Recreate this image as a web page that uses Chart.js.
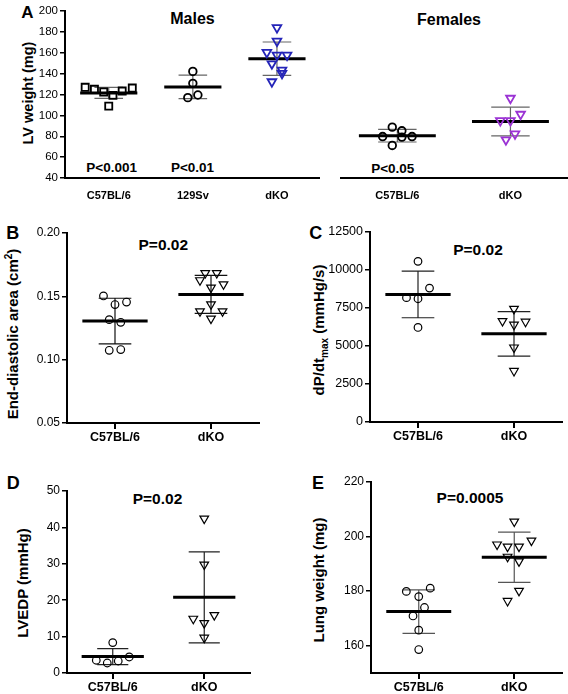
<!DOCTYPE html>
<html>
<head>
<meta charset="utf-8">
<script src="https://cdn.jsdelivr.net/npm/chart.js"></script>
<style>
    html, body { margin: 0; padding: 0; background: #fff; width: 568px; height: 694px; overflow: hidden; }
    body { position: relative; font-family: 'Liberation Sans', Arial, Helvetica, sans-serif; }
    canvas { position: absolute; }
    .txt { position: absolute; transform: translate(-50%, -50%); font-weight: bold; white-space: nowrap; color: #000; line-height: 1; }
    .rot { transform: translate(-50%, -50%) rotate(-90deg); }
    sup, sub { font-size: 10px; line-height: 0; }
</style>
</head>
<body>
<div class="txt" style="left:27.5px;top:12px;font-size:17px">A</div>
<div class="txt" style="left:192.5px;top:19px;font-size:16px">Males</div>
<div class="txt" style="left:449px;top:20px;font-size:16px">Females</div>
<div class="txt" style="left:111.7px;top:168px;font-size:13.5px">P&lt;0.001</div>
<div class="txt" style="left:192.5px;top:168px;font-size:13.5px">P&lt;0.01</div>
<div class="txt" style="left:392.8px;top:168.5px;font-size:13.5px">P&lt;0.05</div>
<div class="txt rot" style="left:27.5px;top:92.5px;font-size:14.5px">LV weight (mg)</div>

<div class="txt" style="left:12.7px;top:233px;font-size:18px">B</div>
<div class="txt rot" style="left:12px;top:334px;font-size:15px">End-diastolic area (cm<sup>2</sup>)</div>
<div class="txt" style="left:163.3px;top:245.3px;font-size:15.5px">P=0.02</div>

<div class="txt" style="left:315.8px;top:232.5px;font-size:18px">C</div>
<div class="txt rot" style="left:318px;top:330px;font-size:15px">dP/dt<sub>max</sub> (mmHg/s)</div>
<div class="txt" style="left:478px;top:250px;font-size:15.5px">P=0.02</div>

<div class="txt" style="left:13.3px;top:483px;font-size:18px">D</div>
<div class="txt rot" style="left:21.7px;top:583.3px;font-size:15px">LVEDP (mmHg)</div>
<div class="txt" style="left:157.5px;top:499px;font-size:15.5px">P=0.02</div>

<div class="txt" style="left:318px;top:483px;font-size:18px">E</div>
<div class="txt rot" style="left:318.3px;top:580px;font-size:15px">Lung weight (mg)</div>
<div class="txt" style="left:470px;top:497.5px;font-size:15.5px">P=0.0005</div>

<script>
Chart.defaults.font.family = "'Liberation Sans', Arial, Helvetica, sans-serif";
Chart.defaults.color = '#000';

// Painel A - peso do VE (mg), machos
const categoriasMachos = ['C57BL/6', '129Sv', 'dKO'];
const lvMachosC57 = [126.9, 125.0, 122.4, 119.2, 123.3, 126.2, 108.9];
const lvMachos129 = [142.1, 130.7, 117.0, 119.5];
const lvMachosDko = [184.1, 171.1, 160.3, 157.7, 157.7, 149.4, 143.4, 140.2, 132.2];
const mediasMachos = [121.5, 127.3, 154.3];
const dpMachos = [5.3, 11.3, 16.0];

// Painel A - fêmeas
const categoriasFemeas = ['C57BL/6', 'dKO'];
const lvFemeasC57 = [88.7, 85.2, 79.7, 79.2, 79.7, 71.2];
const lvFemeasDko = [116.4, 101.1, 95.0, 95.0, 82.3, 76.6];
const mediasFemeas = [80.5, 94.2];
const dpFemeas = [6.0, 13.8];
const ticksLV = [40, 60, 80, 100, 120, 140, 160, 180, 200];

// Painéis B a E
const categorias = ['C57BL/6', 'dKO'];

const areaC57 = [0.1503, 0.1455, 0.1435, 0.1316, 0.1295, 0.1074, 0.1080];
const areaDko = [0.1684, 0.1684, 0.1627, 0.1595, 0.1569, 0.1437, 0.1382, 0.1382, 0.1324];
const mediasArea = [0.1305, 0.1515];
const dpArea = [0.018, 0.015];
const ticksArea = [0.05, 0.10, 0.15, 0.20];

const dpdtC57 = [10570, 8810, 8180, 8110, 6220];
const dpdtDko = [7440, 6640, 6400, 6600, 4900, 3360];
const mediasDpdt = [8390, 5800];
const dpDpdt = [1530, 1465];
const ticksDpdt = [0, 2500, 5000, 7500, 10000, 12500];

const lvedpC57 = [8.35, 3.5, 2.75, 3.3, 4.4];
const lvedpDko = [42.4, 29.8, 14.9, 15.9, 13.7, 9.7];
const mediasLvedp = [4.5, 20.8];
const dpLvedp = [2.2, 12.5];
const ticksLvedp = [0, 10, 20, 30, 40, 50];

const pulmaoC57 = [181.1, 179.9, 178.0, 174.0, 170.9, 165.7, 158.6];
const pulmaoDko = [205.5, 197.1, 196.3, 196.3, 198.5, 192.6, 190.9, 180.1, 176.4];
const mediasPulmao = [172.5, 192.4];
const dpPulmao = [8.0, 9.2];
const ticksPulmao = [160, 180, 200, 220];

// Espalhamento horizontal dos pontos (em unidades de categoria)
const espMachosC57 = [-0.28, -0.17, -0.06, 0.05, 0.16, 0.28, 0];
const espMachos129 = [0, 0, -0.06, 0.06];
const espMachosDko = [0, 0, -0.12, 0, 0.12, -0.06, 0.06, 0.06, -0.06];
const espFemeasC57 = [-0.045, 0.04, -0.13, 0.04, 0.13, -0.045];
const espFemeasDko = [0, 0.09, -0.09, 0, 0.04, -0.04];
const espAreaC57 = [-0.12, 0.12, 0, -0.06, 0.06, -0.06, 0.06];
const espAreaDko = [-0.06, 0.06, -0.115, 0.13, 0, 0, -0.115, 0.12, 0];
const espDpdtC57 = [0, 0.12, -0.12, 0, 0];
const espDpdtDko = [0, -0.12, 0, 0.12, 0, 0];
const espLvedpC57 = [0, -0.18, -0.06, 0.06, 0.18];
const espLvedpDko = [0, 0, -0.12, 0.11, 0, 0];
const espPulmaoC57 = [0.12, -0.13, 0, 0.06, -0.06, 0, 0];
const espPulmaoDko = [0, -0.18, -0.07, 0.05, 0.18, -0.07, 0.05, 0.05, -0.07];

function montarGrupo(valores, esp, media, dp, pos, estilo) {
    const pontos = {
        data: valores.map((v, i) => ({ x: pos + esp[i], y: v })),
        pointStyle: estilo.forma,
        rotation: estilo.forma === 'triangle' ? 180 : 0,
        pointRadius: estilo.raio,
        borderColor: estilo.cor,
        backgroundColor: 'rgba(0,0,0,0)',
        borderWidth: estilo.espessura,
        order: 0
    };
    const linhaMedia = {
        data: [{ x: pos - 0.34, y: media }, { x: pos + 0.34, y: media }],
        showLine: true,
        borderColor: '#000',
        borderWidth: 3,
        pointRadius: 0,
        order: 1
    };
    // barra de desvio padrão (média ± DP)
    const barra = {
        data: [
            { x: pos - 0.17, y: media + dp }, { x: pos + 0.17, y: media + dp }, { x: pos, y: null },
            { x: pos, y: media + dp }, { x: pos, y: media - dp }, { x: pos, y: null },
            { x: pos - 0.17, y: media - dp }, { x: pos + 0.17, y: media - dp }
        ],
        showLine: true,
        spanGaps: false,
        borderColor: estilo.corBarra,
        borderWidth: 1.2,
        pointRadius: 0,
        order: 2
    };
    return [pontos, linhaMedia, barra];
}

function criarPainel(p) {
    const larguraY = p.eixoY ? p.larguraY : 0;
    const topoPad = 10, direitaPad = 8;
    const esquerda = p.x0 - larguraY;
    const topo = p.y0 - topoPad;

    const canvas = document.createElement('canvas');
    canvas.width = p.x1 + direitaPad - esquerda;
    canvas.height = p.y1 + p.alturaX - topo;
    canvas.style.left = esquerda + 'px';
    canvas.style.top = topo + 'px';
    document.body.appendChild(canvas);

    let datasets = [];
    p.grupos.forEach((g, i) => {
        datasets = datasets.concat(montarGrupo(g.valores, g.esp, g.media, g.dp, i + 1, g.estilo));
    });

    new Chart(canvas.getContext('2d'), {
        type: 'scatter',
        data: { datasets: datasets },
        options: {
            responsive: false,
            animation: false,
            events: [],
            layout: { padding: { top: topoPad, right: direitaPad, left: 0, bottom: 0 } },
            plugins: { legend: { display: false }, tooltip: { enabled: false } },
            scales: {
                x: {
                    type: 'linear',
                    min: p.xMin,
                    max: p.xMax,
                    afterBuildTicks: (eixo) => { eixo.ticks = p.categorias.map((c, i) => ({ value: i + 1 })); },
                    afterFit: (eixo) => { eixo.height = p.alturaX; },
                    ticks: {
                        autoSkip: false,
                        maxRotation: 0,
                        padding: p.padX,
                        font: { size: p.fonteX, weight: 'bold' },
                        callback: (valor, indice) => p.categorias[indice]
                    },
                    grid: { display: p.marcasX, drawOnChartArea: false, tickLength: 6, lineWidth: 2, color: '#000' },
                    border: { display: true, color: '#000', width: 2 }
                },
                y: {
                    display: p.eixoY,
                    type: 'linear',
                    min: p.yMin,
                    max: p.yMax,
                    afterBuildTicks: (eixo) => { eixo.ticks = p.ticksY.map(v => ({ value: v })); },
                    afterFit: (eixo) => { eixo.width = larguraY; },
                    ticks: { padding: 2, font: { size: p.fonteY }, callback: p.formatoY },
                    grid: { drawOnChartArea: false, tickLength: 5, lineWidth: 1.5, color: '#000' },
                    border: { display: true, color: '#000', width: 2 }
                }
            }
        }
    });
}

const simples = v => String(v);

const quadradoPreto = { forma: 'rect', raio: 5, cor: '#000', espessura: 1.8, corBarra: '#666' };
const circuloPretoA = { forma: 'circle', raio: 3.8, cor: '#000', espessura: 1.8, corBarra: '#666' };
const trianguloAzul = { forma: 'triangle', raio: 5, cor: '#2424b8', espessura: 1.8, corBarra: '#666' };
const trianguloRoxo = { forma: 'triangle', raio: 5, cor: '#9b33d4', espessura: 1.8, corBarra: '#666' };
function circulo(corBarra) { return { forma: 'circle', raio: 3.8, cor: '#000', espessura: 1.2, corBarra: corBarra }; }
function triangulo(corBarra) { return { forma: 'triangle', raio: 5, cor: '#000', espessura: 1.2, corBarra: corBarra }; }

// A - machos
criarPainel({
    x0: 65, y0: 11, x1: 319, y1: 178, larguraY: 50, alturaX: 22, eixoY: true,
    xMin: 0.48, xMax: 3.5, yMin: 40, yMax: 200, ticksY: ticksLV, formatoY: simples,
    categorias: categoriasMachos, fonteX: 11, padX: 5, marcasX: false, fonteY: 11.5,
    grupos: [
        { valores: lvMachosC57, esp: espMachosC57, media: mediasMachos[0], dp: dpMachos[0], estilo: quadradoPreto },
        { valores: lvMachos129, esp: espMachos129, media: mediasMachos[1], dp: dpMachos[1], estilo: circuloPretoA },
        { valores: lvMachosDko, esp: espMachosDko, media: mediasMachos[2], dp: dpMachos[2], estilo: trianguloAzul }
    ]
});

// A - fêmeas
criarPainel({
    x0: 334, y0: 11, x1: 567, y1: 178, larguraY: 0, alturaX: 22, eixoY: false,
    xMin: 0.5, xMax: 2.5, yMin: 40, yMax: 200, ticksY: ticksLV, formatoY: simples,
    categorias: categoriasFemeas, fonteX: 11, padX: 5, marcasX: false, fonteY: 11.5,
    grupos: [
        { valores: lvFemeasC57, esp: espFemeasC57, media: mediasFemeas[0], dp: dpFemeas[0], estilo: circuloPretoA },
        { valores: lvFemeasDko, esp: espFemeasDko, media: mediasFemeas[1], dp: dpFemeas[1], estilo: trianguloRoxo }
    ]
});

// B - área diastólica final
criarPainel({
    x0: 67, y0: 233, x1: 259, y1: 423, larguraY: 55, alturaX: 23, eixoY: true,
    xMin: 0.5, xMax: 2.5, yMin: 0.05, yMax: 0.20, ticksY: ticksArea, formatoY: v => v.toFixed(2),
    categorias: categorias, fonteX: 12.5, padX: 1.5, marcasX: true, fonteY: 12,
    grupos: [
        { valores: areaC57, esp: espAreaC57, media: mediasArea[0], dp: dpArea[0], estilo: circulo('#111') },
        { valores: areaDko, esp: espAreaDko, media: mediasArea[1], dp: dpArea[1], estilo: triangulo('#111') }
    ]
});

// C - dP/dt max
criarPainel({
    x0: 370, y0: 232, x1: 562, y1: 422, larguraY: 55, alturaX: 23, eixoY: true,
    xMin: 0.5, xMax: 2.5, yMin: 0, yMax: 12500, ticksY: ticksDpdt, formatoY: simples,
    categorias: categorias, fonteX: 12.5, padX: 1.5, marcasX: true, fonteY: 12.5,
    grupos: [
        { valores: dpdtC57, esp: espDpdtC57, media: mediasDpdt[0], dp: dpDpdt[0], estilo: circulo('#222') },
        { valores: dpdtDko, esp: espDpdtDko, media: mediasDpdt[1], dp: dpDpdt[1], estilo: triangulo('#222') }
    ]
});

// D - LVEDP
criarPainel({
    x0: 67, y0: 491, x1: 250, y1: 673, larguraY: 45, alturaX: 23, eixoY: true,
    xMin: 0.5, xMax: 2.5, yMin: 0, yMax: 50, ticksY: ticksLvedp, formatoY: simples,
    categorias: categorias, fonteX: 12.5, padX: 1.5, marcasX: true, fonteY: 12,
    grupos: [
        { valores: lvedpC57, esp: espLvedpC57, media: mediasLvedp[0], dp: dpLvedp[0], estilo: circulo('#222') },
        { valores: lvedpDko, esp: espLvedpDko, media: mediasLvedp[1], dp: dpLvedp[1], estilo: triangulo('#222') }
    ]
});

// E - peso do pulmão
criarPainel({
    x0: 371, y0: 482, x1: 562, y1: 673, larguraY: 45, alturaX: 23, eixoY: true,
    xMin: 0.5, xMax: 2.5, yMin: 150, yMax: 220, ticksY: ticksPulmao, formatoY: simples,
    categorias: categorias, fonteX: 12.5, padX: 1.5, marcasX: true, fonteY: 12,
    grupos: [
        { valores: pulmaoC57, esp: espPulmaoC57, media: mediasPulmao[0], dp: dpPulmao[0], estilo: circulo('#555') },
        { valores: pulmaoDko, esp: espPulmaoDko, media: mediasPulmao[1], dp: dpPulmao[1], estilo: triangulo('#555') }
    ]
});
</script>
</body>
</html>
